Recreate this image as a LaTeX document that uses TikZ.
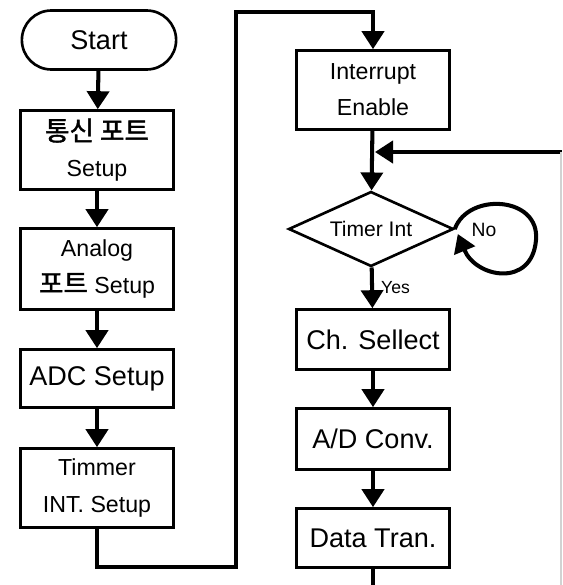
\documentclass[tikz,border=0pt]{standalone}
\usepackage{fontspec}
\setmainfont{Liberation Sans}
\newfontfamily\kr[Scale=1.15,FakeBold=1.5]{Noto Sans CJK KR}
\usetikzlibrary{arrows.meta,shapes.geometric,shapes.misc}

\begin{document}
\begin{tikzpicture}[
  x=0.02cm, y=-0.02cm,
  txt/.style={font=\fontsize{15.4}{21.5}\selectfont},
  twoline/.style={font=\fontsize{13.2}{20.5}\selectfont},
  terminal/.style={rounded rectangle,draw,line width=1.5pt,minimum width=3.32cm,minimum height=1.18cm,txt},
  proc/.style={rectangle,draw,line width=1.5pt,align=center,minimum width=3.06cm,inner sep=0pt,txt},
  decision/.style={diamond,draw,line width=1.5pt,shape aspect=2.2,inner sep=0pt,minimum width=3.3cm,minimum height=1.5cm,font=\fontsize{12}{14}\selectfont},
  arrow/.style={-{Triangle[width=0.44cm,length=0.36cm]},line width=2.3pt},
  flow/.style={line width=2.3pt}
]
\useasboundingbox (0,0) rectangle (562,585);
\node[terminal] (start) at (99,40) {Start};
\node[proc,twoline,minimum height=1.58cm] (comm) at (97,150) {{\kr 통신 포트}\\Setup};
\node[proc,twoline,minimum height=1.62cm] (analog) at (97,269) {Analog\\{\kr 포트} Setup};
\node[proc,minimum height=1.16cm] (adc) at (97,378.5) {ADC Setup};
\node[proc,twoline,minimum height=1.58cm] (timer) at (97,488) {Timmer\\INT. Setup};
\node[proc,twoline,minimum height=1.58cm] (intr) at (373,90) {Interrupt\\Enable};
\node[decision] (tint) at (371,229) {Timer Int};
\node[proc,minimum height=1.2cm] (chsel) at (373,339.5) {Ch. Sellect};
\node[proc,minimum height=1.22cm] (adconv) at (373,439) {A/D Conv.};
\node[proc,minimum height=1.18cm] (dtran) at (373,538) {Data Tran.};
\node[font=\fontsize{11}{13}\selectfont] (no) at (484,230) {No};
\node[font=\fontsize{10}{12}\selectfont,anchor=west] (yes) at (375,288) {Yes};
\coordinate (lowturn) at (236,567);
\coordinate (topturn) at (236,12);
\coordinate (rightin) at (562,152);
\coordinate (merge) at (375,152);
\coordinate (bottom) at (373,585);
\coordinate (edgebot) at (561,585);

\draw[arrow] (start) -- (comm);
\draw[arrow] (comm) -- (analog);
\draw[arrow] (analog) -- (adc);
\draw[arrow] (adc) -- (timer);
\draw[arrow] (timer) |- (lowturn) -- (topturn) -| (intr);
\draw[arrow] (intr) -- (tint);
\draw[arrow] (rightin) -- (merge);
\draw[arrow] (tint.east) .. controls (468,192) and (540,196) .. (536,240) .. controls (532,288) and (476,278) .. ([shift={(3,5)}]tint.east);
\draw[arrow] (tint) -- (chsel);
\draw[arrow] (chsel) -- (adconv);
\draw[arrow] (adconv) -- (dtran);
\draw[flow] (dtran) -- (bottom);
\draw[gray!35,line width=0.6pt] ([xshift=-0.02cm]rightin) -- (edgebot);
\end{tikzpicture}
\end{document}
